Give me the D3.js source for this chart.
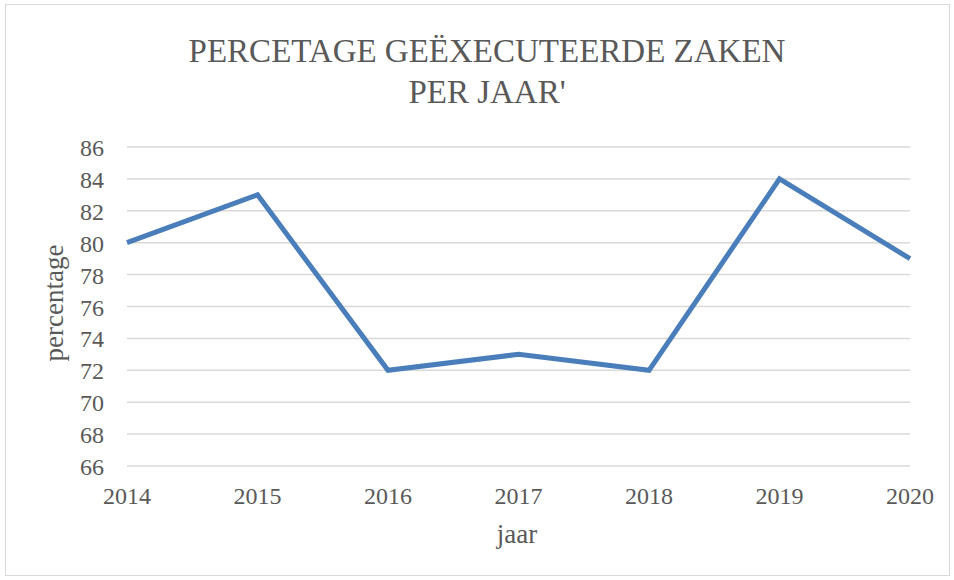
<!DOCTYPE html>
<html lang="nl">
<head>
    <meta charset="UTF-8">
    <script src="https://cdnjs.cloudflare.com/ajax/libs/d3/7.8.5/d3.min.js"></script>
    <style>
        body { margin: 0; background: #fff; }
        text { font-family: "Liberation Serif", "DejaVu Serif", serif; fill: #595959; }
    </style>
</head>
<body>
<svg id="chart" width="954" height="580"></svg>
<script>
    const years = [2014, 2015, 2016, 2017, 2018, 2019, 2020];
    const percentages = [80, 83, 72, 73, 72, 84, 79];
    const yTicks = [66, 68, 70, 72, 74, 76, 78, 80, 82, 84, 86];
    const titleLines = ['PERCETAGE GEËXECUTEERDE ZAKEN', "PER JAAR'"];

    const svg = d3.select('#chart');
    const plot = { left: 127, right: 910, top: 147, bottom: 466 };

    svg.append('rect')
        .attr('x', 5.5).attr('y', 4.5)
        .attr('width', 944).attr('height', 571)
        .attr('fill', '#fff').attr('stroke', '#d9d9d9').attr('stroke-width', 1);

    const x = d3.scalePoint().domain(years).range([plot.left, plot.right]);
    const y = d3.scaleLinear().domain([66, 86]).range([plot.bottom, plot.top]);

    // gridlines
    svg.append('g').selectAll('line')
        .data(yTicks).enter()
        .append('line')
        .attr('x1', plot.left).attr('x2', plot.right)
        .attr('y1', d => y(d)).attr('y2', d => y(d))
        .attr('stroke', '#d9d9d9').attr('stroke-width', 1.5);

    // y labels
    svg.append('g').selectAll('text')
        .data(yTicks).enter()
        .append('text')
        .attr('x', 104).attr('y', d => y(d) + 9)
        .attr('text-anchor', 'end')
        .style('font-size', '24px')
        .text(d => d);

    // x labels
    svg.append('g').selectAll('text')
        .data(years).enter()
        .append('text')
        .attr('x', d => x(d)).attr('y', 504)
        .attr('text-anchor', 'middle')
        .style('font-size', '24px')
        .text(d => d);

    svg.append('text')
        .attr('x', 517).attr('y', 543)
        .attr('text-anchor', 'middle')
        .style('font-size', '27px')
        .text('jaar');

    svg.append('text')
        .attr('transform', 'translate(63,303) rotate(-90)')
        .attr('text-anchor', 'middle')
        .style('font-size', '27px')
        .text('percentage');

    svg.append('g').selectAll('text')
        .data(titleLines).enter()
        .append('text')
        .attr('x', 487).attr('y', (d, i) => 62 + i * 41)
        .attr('text-anchor', 'middle')
        .style('font-size', '33px')
        .text(d => d);

    const line = d3.line()
        .x((d, i) => x(years[i]))
        .y(d => y(d));

    svg.append('path')
        .datum(percentages)
        .attr('d', line)
        .attr('fill', 'none')
        .attr('stroke', '#4a7ebb')
        .attr('stroke-width', 5)
        .attr('stroke-linejoin', 'miter');
</script>
</body>
</html>
